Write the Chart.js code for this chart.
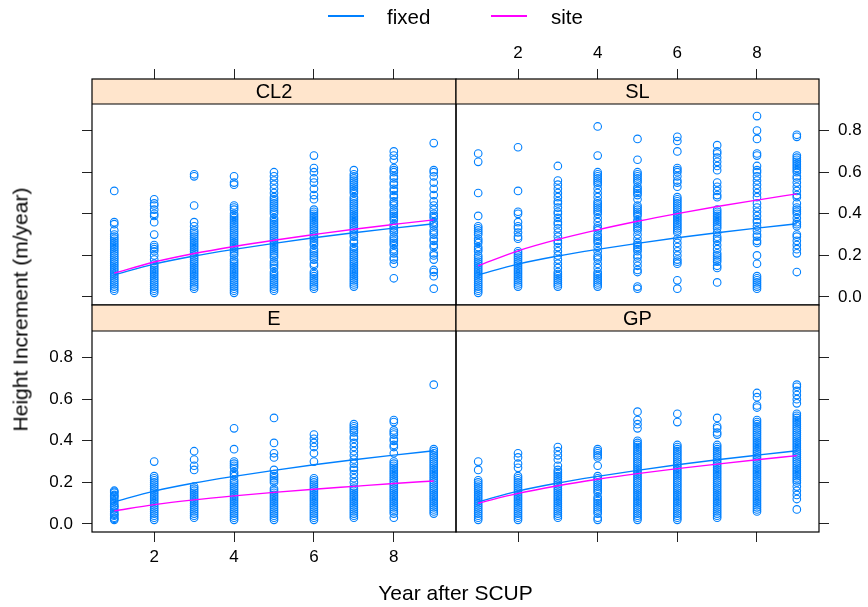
<!DOCTYPE html>
<html><head><meta charset="utf-8">
<script src="https://cdn.jsdelivr.net/npm/chart.js@4.4.0/dist/chart.umd.min.js"></script>
<style>
html,body{margin:0;padding:0;background:#fff;width:868px;height:607px;overflow:hidden;font-family:"Liberation Sans",Arial,sans-serif;}
#wrap{position:relative;width:868px;height:607px;}
canvas{position:absolute;left:0;top:0;}
.txt{position:absolute;white-space:nowrap;color:#000;}
.key{position:absolute;height:0;}
</style></head><body><div id="wrap">
<canvas id="c0" width="868" height="607"></canvas>
<canvas id="c1" width="868" height="607"></canvas>
<canvas id="c2" width="868" height="607"></canvas>
<canvas id="c3" width="868" height="607"></canvas>
<div class="key" style="left:328px;top:15px;width:36px;border-top:2px solid #0080ff;"></div>
<div class="txt" style="left:387px;top:7px;font-size:20.5px;line-height:20.5px;">fixed</div>
<div class="key" style="left:491px;top:15px;width:36px;border-top:2px solid #ff00ff;"></div>
<div class="txt" style="left:551px;top:7px;font-size:20.5px;line-height:20.5px;">site</div>
<div class="txt" style="left:0;width:911px;text-align:center;top:582px;font-size:21px;line-height:21px;">Year after SCUP</div>
<div class="txt" style="left:-180px;width:400px;text-align:center;top:299px;height:21px;font-size:21px;line-height:21px;transform:rotate(-90deg);transform-origin:50% 50%;">Height Increment (m/year)</div>
</div>
<script>
// ---------------- data ----------------
const years = [1, 2, 3, 4, 5, 6, 7, 8, 9];
const panelNames = ['CL2', 'SL', 'E', 'GP'];
const xTickValues = [2, 4, 6, 8];
const yTickValues = [0, 0.2, 0.4, 0.6, 0.8];

const fixedCurve = [0.107, 0.158, 0.197, 0.229, 0.258, 0.285, 0.309, 0.331, 0.352];
const siteCL2 = [0.115, 0.168, 0.209, 0.243, 0.273, 0.300, 0.326, 0.349, 0.371];
const siteSL  = [0.150, 0.222, 0.277, 0.323, 0.364, 0.401, 0.435, 0.466, 0.496];
const siteE   = [0.063, 0.093, 0.116, 0.135, 0.152, 0.167, 0.181, 0.195, 0.207];
const siteGP  = [0.100, 0.147, 0.184, 0.215, 0.242, 0.266, 0.288, 0.309, 0.329];

const ptsCL2 = [
  [0.51,0.36,0.35,0.32,0.30,0.29,0.28,0.27,0.26,0.25,0.24,0.23,0.22,0.21,0.20,0.19,0.18,0.17,0.16,0.15,0.14,0.13,0.12,0.11,0.10,0.09,0.08,0.07,0.06,0.05,0.04,0.03],
  [0.47,0.45,0.44,0.42,0.40,0.39,0.36,0.30,0.25,0.24,0.23,0.22,0.20,0.18,0.16,0.15,0.14,0.13,0.12,0.11,0.10,0.09,0.08,0.07,0.06,0.05,0.04,0.03,0.02],
  [0.59,0.58,0.44,0.36,0.34,0.32,0.31,0.30,0.29,0.28,0.27,0.26,0.25,0.24,0.23,0.22,0.21,0.20,0.19,0.18,0.17,0.16,0.15,0.14,0.13,0.12,0.11,0.10,0.09,0.08,0.07,0.06,0.05,0.04],
  [0.58,0.55,0.54,0.44,0.43,0.42,0.40,0.39,0.38,0.37,0.36,0.35,0.34,0.33,0.32,0.31,0.30,0.29,0.28,0.27,0.26,0.25,0.24,0.23,0.22,0.21,0.20,0.18,0.17,0.16,0.15,0.14,0.13,0.12,0.11,0.10,0.09,0.08,0.07,0.06,0.05,0.04,0.03,0.02],
  [0.60,0.58,0.56,0.54,0.52,0.50,0.48,0.47,0.46,0.45,0.44,0.43,0.42,0.41,0.40,0.38,0.37,0.36,0.35,0.34,0.33,0.32,0.31,0.30,0.29,0.28,0.27,0.26,0.25,0.24,0.23,0.22,0.21,0.20,0.19,0.17,0.16,0.15,0.14,0.12,0.11,0.10,0.09,0.08,0.07,0.06,0.05,0.04,0.03],
  [0.68,0.62,0.60,0.57,0.55,0.52,0.49,0.47,0.42,0.41,0.40,0.39,0.38,0.37,0.36,0.35,0.34,0.33,0.32,0.31,0.30,0.29,0.28,0.27,0.26,0.25,0.23,0.22,0.21,0.20,0.19,0.18,0.16,0.15,0.12,0.11,0.10,0.09,0.08,0.07,0.06,0.05,0.04],
  [0.61,0.59,0.58,0.57,0.56,0.55,0.54,0.53,0.52,0.51,0.50,0.48,0.47,0.46,0.45,0.44,0.43,0.42,0.41,0.40,0.39,0.38,0.37,0.36,0.35,0.34,0.33,0.32,0.31,0.30,0.29,0.27,0.26,0.24,0.23,0.22,0.21,0.20,0.19,0.18,0.17,0.16,0.15,0.14,0.13,0.12,0.11,0.10,0.09,0.08,0.07,0.06,0.05],
  [0.70,0.68,0.66,0.62,0.61,0.60,0.58,0.57,0.55,0.54,0.52,0.51,0.49,0.48,0.46,0.45,0.44,0.42,0.41,0.40,0.39,0.38,0.37,0.35,0.34,0.33,0.32,0.31,0.29,0.28,0.27,0.26,0.25,0.23,0.22,0.21,0.19,0.18,0.16,0.09],
  [0.74,0.61,0.60,0.58,0.55,0.52,0.49,0.46,0.44,0.42,0.40,0.39,0.38,0.36,0.35,0.34,0.32,0.31,0.30,0.28,0.27,0.25,0.24,0.21,0.20,0.18,0.13,0.12,0.10,0.04]
];
const ptsSL = [
  [0.69,0.65,0.50,0.39,0.34,0.33,0.32,0.31,0.30,0.28,0.27,0.26,0.24,0.23,0.22,0.20,0.19,0.18,0.17,0.16,0.15,0.14,0.13,0.12,0.11,0.10,0.09,0.08,0.07,0.06,0.05,0.04,0.03,0.02],
  [0.72,0.51,0.41,0.40,0.36,0.34,0.33,0.31,0.29,0.28,0.22,0.21,0.20,0.19,0.18,0.17,0.16,0.15,0.14,0.13,0.12,0.11,0.10,0.09,0.08,0.07,0.06,0.05],
  [0.63,0.56,0.54,0.52,0.50,0.48,0.46,0.45,0.43,0.41,0.40,0.38,0.36,0.35,0.33,0.31,0.29,0.27,0.26,0.24,0.22,0.20,0.18,0.16,0.14,0.12,0.11,0.10,0.09,0.08,0.07,0.06,0.05],
  [0.82,0.68,0.60,0.59,0.58,0.57,0.56,0.55,0.54,0.52,0.50,0.48,0.46,0.45,0.44,0.43,0.42,0.41,0.40,0.38,0.36,0.34,0.33,0.32,0.30,0.29,0.28,0.27,0.26,0.24,0.22,0.20,0.19,0.18,0.16,0.14,0.12,0.11,0.10,0.09,0.08,0.07,0.06,0.05],
  [0.76,0.66,0.60,0.59,0.58,0.57,0.56,0.55,0.53,0.52,0.51,0.50,0.49,0.47,0.44,0.43,0.42,0.41,0.40,0.39,0.37,0.36,0.35,0.34,0.33,0.32,0.30,0.28,0.26,0.25,0.24,0.23,0.22,0.20,0.19,0.17,0.15,0.13,0.12,0.05,0.04],
  [0.77,0.75,0.70,0.62,0.61,0.60,0.58,0.56,0.55,0.53,0.48,0.47,0.46,0.45,0.44,0.43,0.42,0.41,0.40,0.39,0.38,0.37,0.36,0.35,0.34,0.33,0.32,0.31,0.28,0.26,0.24,0.22,0.20,0.18,0.17,0.16,0.08,0.04],
  [0.73,0.70,0.69,0.67,0.65,0.63,0.61,0.55,0.53,0.51,0.49,0.48,0.42,0.41,0.40,0.39,0.38,0.37,0.36,0.35,0.34,0.33,0.31,0.29,0.28,0.27,0.25,0.23,0.21,0.20,0.19,0.18,0.17,0.15,0.14,0.07],
  [0.87,0.80,0.76,0.69,0.68,0.63,0.61,0.60,0.58,0.56,0.54,0.52,0.50,0.48,0.45,0.43,0.41,0.39,0.37,0.36,0.34,0.32,0.30,0.29,0.27,0.26,0.20,0.16,0.10,0.09,0.08,0.07,0.06,0.05,0.04],
  [0.78,0.77,0.68,0.67,0.66,0.65,0.64,0.63,0.62,0.61,0.60,0.58,0.57,0.55,0.53,0.51,0.49,0.48,0.45,0.43,0.42,0.41,0.40,0.38,0.36,0.35,0.34,0.30,0.29,0.27,0.25,0.23,0.21,0.12]
];
const ptsE = [
  [0.16,0.155,0.15,0.14,0.135,0.13,0.12,0.11,0.10,0.09,0.085,0.08,0.07,0.06,0.05,0.045,0.04,0.03,0.025,0.02],
  [0.30,0.23,0.22,0.21,0.20,0.19,0.18,0.17,0.16,0.15,0.14,0.13,0.12,0.11,0.10,0.09,0.08,0.07,0.06,0.05,0.04,0.03,0.02],
  [0.35,0.31,0.28,0.26,0.18,0.17,0.16,0.15,0.14,0.13,0.12,0.11,0.10,0.09,0.08,0.07,0.06,0.05,0.04,0.03],
  [0.46,0.36,0.30,0.29,0.28,0.27,0.25,0.24,0.23,0.21,0.20,0.19,0.18,0.17,0.16,0.15,0.14,0.13,0.12,0.11,0.10,0.09,0.08,0.07,0.06,0.05,0.04,0.03,0.02],
  [0.51,0.39,0.34,0.32,0.26,0.24,0.23,0.22,0.21,0.20,0.17,0.16,0.15,0.14,0.13,0.12,0.11,0.10,0.09,0.08,0.07,0.06,0.05,0.04,0.03,0.02],
  [0.43,0.41,0.39,0.37,0.34,0.30,0.22,0.21,0.20,0.19,0.18,0.17,0.16,0.15,0.14,0.13,0.12,0.11,0.10,0.09,0.08,0.07,0.06,0.05,0.04,0.03,0.02],
  [0.48,0.47,0.46,0.45,0.44,0.42,0.41,0.39,0.37,0.35,0.33,0.31,0.29,0.27,0.26,0.24,0.22,0.20,0.18,0.17,0.16,0.15,0.14,0.13,0.12,0.11,0.10,0.09,0.08,0.07,0.06,0.05,0.04,0.03],
  [0.50,0.49,0.45,0.44,0.43,0.41,0.40,0.38,0.37,0.34,0.30,0.29,0.28,0.27,0.26,0.25,0.24,0.23,0.22,0.21,0.20,0.19,0.18,0.17,0.16,0.15,0.14,0.13,0.12,0.11,0.10,0.09,0.08,0.07,0.06,0.05,0.03],
  [0.67,0.36,0.35,0.34,0.33,0.32,0.31,0.30,0.29,0.28,0.27,0.26,0.25,0.24,0.23,0.22,0.21,0.20,0.19,0.18,0.17,0.16,0.15,0.14,0.13,0.12,0.11,0.10,0.09,0.08,0.07,0.06,0.05]
];
const ptsGP = [
  [0.30,0.26,0.21,0.20,0.19,0.18,0.17,0.16,0.15,0.14,0.13,0.12,0.11,0.10,0.09,0.08,0.07,0.06,0.05,0.04,0.03,0.02],
  [0.34,0.32,0.29,0.27,0.23,0.22,0.21,0.20,0.19,0.18,0.17,0.16,0.15,0.14,0.13,0.12,0.11,0.10,0.09,0.08,0.07,0.06,0.05,0.04,0.03,0.02],
  [0.37,0.35,0.33,0.31,0.28,0.26,0.25,0.24,0.23,0.22,0.21,0.20,0.19,0.18,0.17,0.16,0.15,0.14,0.13,0.12,0.11,0.10,0.09,0.08,0.07,0.06,0.05,0.04,0.03],
  [0.36,0.35,0.34,0.33,0.32,0.28,0.23,0.22,0.21,0.20,0.19,0.18,0.17,0.16,0.15,0.13,0.12,0.11,0.10,0.09,0.08,0.07,0.06,0.05,0.03,0.02],
  [0.54,0.50,0.48,0.46,0.40,0.39,0.38,0.37,0.36,0.35,0.34,0.33,0.32,0.31,0.30,0.29,0.28,0.27,0.26,0.25,0.24,0.23,0.22,0.21,0.20,0.19,0.18,0.17,0.16,0.15,0.14,0.13,0.12,0.11,0.10,0.09,0.08,0.07,0.06,0.05,0.04,0.03,0.02],
  [0.53,0.49,0.38,0.37,0.36,0.35,0.34,0.33,0.32,0.31,0.30,0.29,0.28,0.27,0.26,0.25,0.24,0.23,0.22,0.21,0.20,0.19,0.18,0.17,0.16,0.15,0.14,0.13,0.12,0.11,0.10,0.09,0.08,0.07,0.06,0.05,0.04,0.03,0.02],
  [0.51,0.47,0.46,0.44,0.43,0.38,0.37,0.36,0.35,0.34,0.33,0.32,0.31,0.30,0.29,0.28,0.27,0.26,0.25,0.24,0.23,0.22,0.21,0.20,0.19,0.18,0.17,0.16,0.15,0.14,0.13,0.12,0.11,0.10,0.09,0.08,0.07,0.06,0.05,0.04,0.03],
  [0.63,0.61,0.57,0.56,0.50,0.49,0.48,0.47,0.46,0.45,0.44,0.43,0.42,0.41,0.40,0.39,0.38,0.37,0.36,0.35,0.34,0.33,0.32,0.31,0.30,0.29,0.28,0.27,0.26,0.25,0.24,0.23,0.22,0.21,0.20,0.19,0.18,0.17,0.16,0.15,0.14,0.13,0.12,0.11,0.10,0.09,0.08,0.07,0.06],
  [0.67,0.66,0.64,0.62,0.60,0.58,0.53,0.52,0.51,0.50,0.49,0.48,0.47,0.46,0.45,0.44,0.43,0.42,0.41,0.40,0.39,0.38,0.37,0.36,0.35,0.34,0.33,0.32,0.31,0.30,0.29,0.28,0.27,0.26,0.25,0.24,0.23,0.22,0.21,0.20,0.18,0.16,0.14,0.12,0.07]
];

// ---------------- layout / style ----------------
const W = 868, H = 607;
const FONT = "'Liberation Sans', Arial, Helvetica, sans-serif";
const BLUE = '#0080ff', MAGENTA = '#ff00ff', STRIP_BG = '#ffe5cc';
const XMIN = 0.443, XMAX = 9.557;
const YMIN = -0.0385, YTOP = 0.928, PLOT_H = 201;

const layoutSpec = [
  {name: 'CL2', pts: ptsCL2, site: siteCL2, l: 92,  t: 79,  r: 456, b: 305, strip: 25, xPos: 'top',    yPos: 'left',  xLab: false, yLab: false},
  {name: 'SL',  pts: ptsSL,  site: siteSL,  l: 456, t: 79,  r: 819, b: 305, strip: 25, xPos: 'top',    yPos: 'right', xLab: true,  yLab: true},
  {name: 'E',   pts: ptsE,   site: siteE,   l: 92,  t: 305, r: 456, b: 532, strip: 26, xPos: 'bottom', yPos: 'left',  xLab: true,  yLab: true},
  {name: 'GP',  pts: ptsGP,  site: siteGP,  l: 456, t: 305, r: 819, b: 532, strip: 26, xPos: 'bottom', yPos: 'right', xLab: false, yLab: false}
];

function pointsFor(cols) {
  const out = [];
  cols.forEach((col, i) => col.forEach(v => out.push({x: years[i], y: v})));
  return out;
}
function curveFor(vals) { return vals.map((v, i) => ({x: years[i], y: v})); }

const panelPlugin = {
  id: 'panelDeco',
  beforeDatasetsDraw(chart) {
    const s = chart.options.plugins.panelDeco;
    const a = chart.chartArea;
    const ctx = chart.ctx;
    ctx.save();
    ctx.fillStyle = STRIP_BG;
    ctx.fillRect(a.left, a.top, a.right - a.left, s.strip);
    ctx.fillStyle = '#000';
    ctx.font = '20px ' + FONT;
    ctx.textAlign = 'center';
    ctx.textBaseline = 'middle';
    ctx.fillText(s.name, (a.left + a.right) / 2, a.top + s.strip / 2 + 1);
    ctx.restore();
  },
  afterDatasetsDraw(chart) {
    const s = chart.options.plugins.panelDeco;
    const a = chart.chartArea;
    const ctx = chart.ctx;
    ctx.save();
    ctx.strokeStyle = '#000';
    ctx.lineWidth = 1.2;
    ctx.strokeRect(a.left, a.top, a.right - a.left, a.bottom - a.top);
    ctx.beginPath();
    ctx.moveTo(a.left, a.top + s.strip);
    ctx.lineTo(a.right, a.top + s.strip);
    ctx.stroke();
    ctx.restore();
  }
};

layoutSpec.forEach((p, idx) => {
  const areaH = p.b - p.t;
  const yMax = YMIN + areaH * (YTOP - YMIN) / PLOT_H;
  const pad = {left: 0, right: 0, top: 0, bottom: 0};
  if (p.yPos === 'left') pad.right = W - p.r; else pad.left = p.l;
  if (p.xPos === 'top') pad.bottom = H - p.b; else pad.top = p.t;

  const tickFont = {family: FONT, size: 17};
  new Chart(document.getElementById('c' + idx), {
    type: 'scatter',
    data: {
      datasets: [
        {type: 'line', label: 'site', data: curveFor(p.site), borderColor: MAGENTA, borderWidth: 1.4,
         pointRadius: 0, fill: false, cubicInterpolationMode: 'monotone'},
        {type: 'line', label: 'fixed', data: curveFor(fixedCurve), borderColor: BLUE, borderWidth: 1.4,
         pointRadius: 0, fill: false, cubicInterpolationMode: 'monotone'},
        {type: 'scatter', label: 'obs', data: pointsFor(p.pts), pointStyle: 'circle', pointRadius: 3.8,
         borderColor: BLUE, backgroundColor: 'rgba(0,0,0,0)', pointBorderWidth: 1.1, borderWidth: 1.1}
      ]
    },
    options: {
      responsive: false, animation: false, devicePixelRatio: 1,
      layout: {padding: pad},
      plugins: {legend: {display: false}, tooltip: {enabled: false}, title: {display: false},
                panelDeco: {name: p.name, strip: p.strip}},
      scales: {
        x: {
          type: 'linear', position: p.xPos, min: XMIN, max: XMAX,
          afterBuildTicks: s => { s.ticks = xTickValues.map(v => ({value: v})); },
          afterFit: s => { s.height = (p.xPos === 'top') ? p.t : (H - p.b); },
          grid: {display: true, drawOnChartArea: false, drawTicks: true, tickLength: 10, color: '#222', lineWidth: 1},
          border: {display: false},
          ticks: {display: p.xLab, font: tickFont, color: '#000', padding: 5, maxRotation: 0, autoSkip: false,
                  callback: v => String(v)}
        },
        y: {
          type: 'linear', position: p.yPos, min: YMIN, max: yMax,
          afterBuildTicks: s => { s.ticks = yTickValues.map(v => ({value: v})); },
          afterFit: s => { s.width = (p.yPos === 'left') ? p.l : (W - p.r); },
          grid: {display: true, drawOnChartArea: false, drawTicks: true, tickLength: 10, color: '#222', lineWidth: 1},
          border: {display: false},
          ticks: {display: p.yLab, font: tickFont, color: '#000', padding: 9, autoSkip: false,
                  callback: v => Number(v).toFixed(1)}
        }
      }
    },
    plugins: [panelPlugin]
  });
});
</script>
</body></html>
